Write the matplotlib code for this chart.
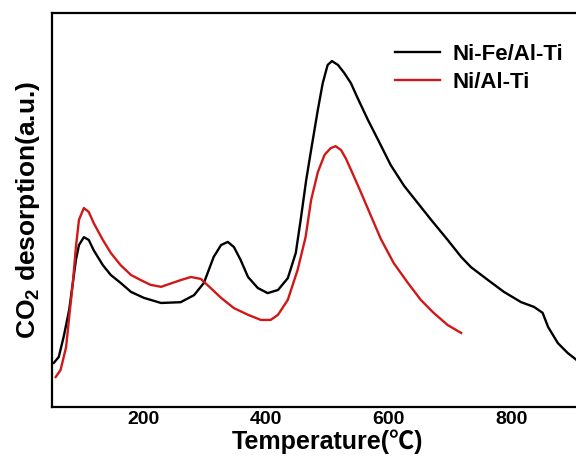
import numpy as np
import matplotlib
matplotlib.use('Agg')
import matplotlib.pyplot as plt

plt.rcParams['font.family'] = ['Liberation Sans', 'Noto Sans CJK SC', 'DejaVu Sans']
plt.rcParams['font.weight'] = 'bold'
plt.rcParams['mathtext.fontset'] = 'custom'
plt.rcParams['mathtext.rm'] = 'Liberation Sans:bold'
plt.rcParams['mathtext.default'] = 'rm'

# Ni-Fe/Al-Ti (black), values (arbitrary units)
t_nife = [53, 61, 69, 78, 84, 89, 94, 102, 110, 118, 133, 146, 162, 179, 200,
          228, 260, 282, 298, 314, 326, 337, 347, 358, 370, 386, 402, 419, 435,
          448, 456, 465, 473, 484, 492, 500, 507, 517, 527, 538, 549, 566, 584,
          603, 625, 647, 669, 696, 718, 734, 762, 788, 816, 837, 851, 860, 876,
          892, 910]
y_nife = [11.2, 12.7, 17.8, 24.6, 31.5, 37.3, 41.1, 43.1, 42.4, 39.8, 36.0, 33.5,
          31.5, 29.2, 27.7, 26.4, 26.6, 28.4, 31.5, 38.1, 41.1, 41.9, 40.6, 37.3,
          33.0, 30.2, 28.9, 29.7, 32.7, 39.1, 47.5, 57.6, 65.2, 75.4, 82.2, 86.8,
          87.8, 86.8, 84.8, 82.2, 78.4, 72.8, 67.3, 61.4, 56.1, 51.8, 47.5, 42.4,
          38.1, 35.5, 32.2, 29.2, 26.6, 25.4, 23.9, 20.3, 16.2, 13.7, 11.5]

# Ni/Al-Ti (red)
t_ni = [56, 64, 73, 78, 84, 89, 94, 102, 110, 118, 133, 146, 162, 179, 195,
        211, 228, 260, 277, 293, 309, 326, 347, 370, 391, 407, 419, 435, 451,
        464, 473, 484, 495, 505, 513, 522, 530, 541, 554, 571, 587, 608, 631,
        652, 673, 696, 718]
y_ni = [7.6, 9.4, 15.2, 22.8, 31.5, 40.6, 47.5, 50.5, 49.5, 46.7, 42.4, 39.1,
        36.0, 33.5, 32.2, 31.0, 30.5, 32.2, 33.0, 32.5, 30.2, 27.7, 25.1, 23.4,
        22.1, 22.1, 23.4, 27.2, 34.8, 43.1, 52.5, 59.6, 64.0, 65.7, 66.2, 65.2,
        63.0, 59.2, 54.6, 48.4, 42.6, 36.5, 31.5, 27.2, 23.9, 20.8, 18.8]

xticks = [200, 400, 600, 800]

fig = plt.figure(figsize=(5.76, 4.59), dpi=100)
ax = fig.add_axes([0.0903, 0.1133, 0.957, 0.8584])

ax.plot(t_nife, y_nife, color='black', lw=1.7, label='Ni-Fe/Al-Ti')
ax.plot(t_ni, y_ni, color='#d01818', lw=1.7, label='Ni/Al-Ti')

ax.set_xlim(50, 950)
ax.set_ylim(0, 100)
ax.set_xticks(xticks)
ax.set_yticks([])
ax.tick_params(axis='x', length=0, pad=3, labelsize=14)
for sp in ax.spines.values():
    sp.set_linewidth(1.6)

ax.set_xlabel('Temperature(℃)', fontsize=18, fontweight='bold', labelpad=1)
ax.set_ylabel('CO$_2$ desorption(a.u.)', fontsize=19, fontweight='bold', labelpad=7)

ax.legend(loc='upper left', bbox_to_anchor=(0.686, 0.904), bbox_transform=fig.transFigure,
          frameon=False, fontsize=16, handlelength=2.0, handletextpad=0.6,
          labelspacing=0.3, borderpad=0, borderaxespad=0)

fig.savefig('out.png', dpi=100)
